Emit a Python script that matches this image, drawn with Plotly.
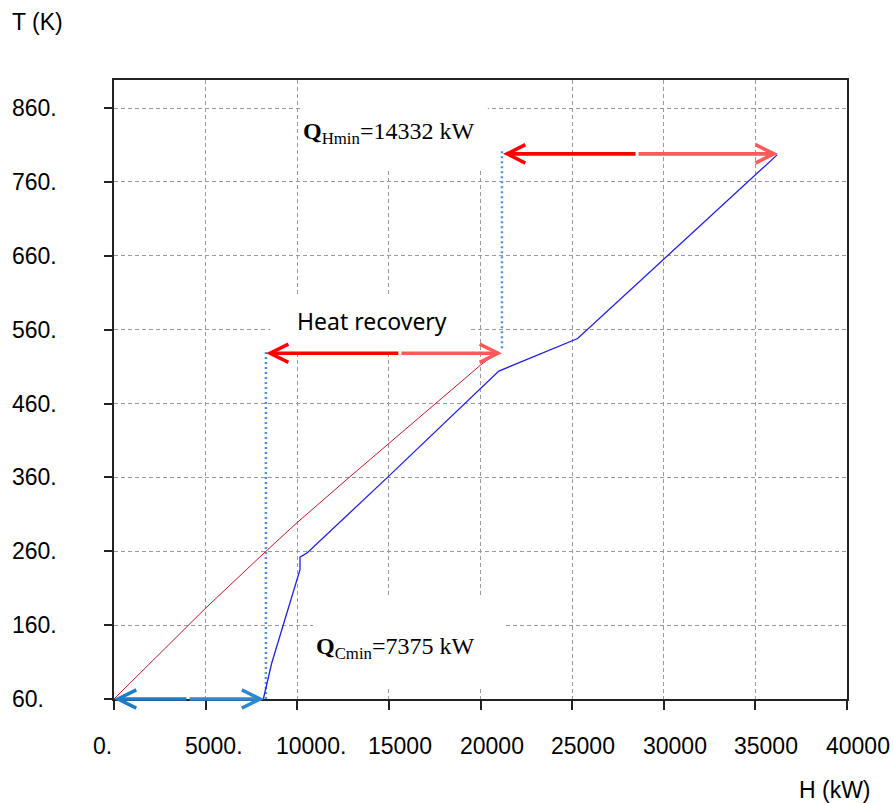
import plotly.graph_objects as go

# ---------------- data ----------------
hot_H = [0, 5000, 8290, 10000, 12880, 17700, 20000, 20800]
hot_T = [60, 183, 260, 299, 361, 463, 512, 527]

cold_H = [8150, 8600, 10150, 10150, 10550, 14880, 21000, 25300, 36200]
cold_T = [60, 108, 235, 252, 258, 359, 504, 548, 797]

x_ticks = [0, 5000, 10000, 15000, 20000, 25000, 30000, 35000, 40000]
x_tick_labels = ["0.", "5000.", "10000.", "15000", "20000", "25000", "30000", "35000", "40000"]
y_ticks = [60, 160, 260, 360, 460, 560, 660, 760, 860]
y_tick_labels = ["60.", "160.", "260.", "360.", "460.", "560.", "660.", "760.", "860."]

# arrows: [left tip, middle, right tip], level T
qc_arrow_H = [0, 4040, 8190]
qc_arrow_T = 60
hr_arrow_H = [8300, 15600, 21170]
hr_arrow_T = 528
qh_arrow_H = [21230, 28540, 36230]
qh_arrow_T = 798

# pinch (dotted) lines
pinch_low_H = [8290, 8290]
pinch_low_T = [60, 530]
pinch_high_H = [21170, 21170]
pinch_high_T = [535, 805]

# label boxes (white background behind labels): [H0, H1, T0, T1]
qh_box = [10150, 20400, 777, 898]
hr_box = [8510, 19430, 532, 607]
qc_box = [10860, 21390, 75, 197]

qh_label = "<b>Q</b><sub>Hmin</sub>=14332 kW"
qh_pos = [10200, 826]
qc_label = "<b>Q</b><sub>Cmin</sub>=7375 kW"
qc_pos = [10930, 129]
hr_label = "Heat recovery"
hr_pos = [9877, 572]

X_RANGE = [0, 40000]
Y_RANGE = [60, 898]

# ---------------- figure ----------------
fig = go.Figure()

fig.add_trace(go.Scatter(x=pinch_low_H, y=pinch_low_T, mode="lines",
                         line=dict(color="#4f93d6", width=2.5, dash="2px,3px"),
                         hoverinfo="skip", showlegend=False))
fig.add_trace(go.Scatter(x=pinch_high_H, y=pinch_high_T, mode="lines",
                         line=dict(color="#4f93d6", width=2.5, dash="2px,3px"),
                         hoverinfo="skip", showlegend=False))
fig.add_trace(go.Scatter(x=hot_H, y=hot_T, mode="lines",
                         line=dict(color="#c0182a", width=1),
                         showlegend=False))
fig.add_trace(go.Scatter(x=cold_H, y=cold_T, mode="lines",
                         line=dict(color="#1f1fe6", width=1.3),
                         showlegend=False))

shapes = []
for b in (qh_box, hr_box, qc_box):
    shapes.append(dict(type="rect", xref="x", yref="y", x0=b[0], x1=b[1], y0=b[2], y1=b[3],
                       fillcolor="white", line=dict(width=0), layer="between"))

annotations = []


def double_arrow(Hs, T, dark, light):
    left, mid, right = Hs
    annotations.append(dict(x=left, y=T, ax=mid, ay=T, xref="x", yref="y",
                            axref="x", ayref="y", text="", showarrow=True,
                            arrowhead=5, arrowsize=1.0, arrowwidth=3.6,
                            arrowcolor=dark, standoff=0, startstandoff=0))
    annotations.append(dict(x=right, y=T, ax=mid, ay=T, xref="x", yref="y",
                            axref="x", ayref="y", text="", showarrow=True,
                            arrowhead=5, arrowsize=1.0, arrowwidth=3.6,
                            arrowcolor=light, standoff=0, startstandoff=0))


double_arrow(qc_arrow_H, qc_arrow_T, "#1f7bc8", "#2f88d4")
double_arrow(hr_arrow_H, hr_arrow_T, "#ff0000", "#ff5a5a")
double_arrow(qh_arrow_H, qh_arrow_T, "#ff0000", "#ff5a5a")

serif = "Liberation Serif, Times New Roman, serif"
sans = "Liberation Sans, Arial, sans-serif"

annotations.append(dict(x=qh_pos[0], y=qh_pos[1], xref="x", yref="y", text=qh_label,
                        showarrow=False, xanchor="left", yanchor="middle",
                        font=dict(family=serif, size=24, color="black")))
annotations.append(dict(x=qc_pos[0], y=qc_pos[1], xref="x", yref="y", text=qc_label,
                        showarrow=False, xanchor="left", yanchor="middle",
                        font=dict(family=serif, size=24, color="black")))
annotations.append(dict(x=hr_pos[0], y=hr_pos[1], xref="x", yref="y", text=hr_label,
                        showarrow=False, xanchor="left", yanchor="middle",
                        font=dict(family="Noto Sans, Open Sans, sans-serif", size=23, color="black")))

# tick labels (left aligned like the original)
for v, t in zip(x_ticks, x_tick_labels):
    annotations.append(dict(x=v, y=0, xref="x", yref="paper", text=t, showarrow=False,
                            xanchor="left", yanchor="middle", xshift=-23, yshift=-47,
                            font=dict(family=sans, size=23, color="black")))
for v, t in zip(y_ticks, y_tick_labels):
    annotations.append(dict(x=0, y=v, xref="x", yref="y", text=t, showarrow=False,
                            xanchor="left", yanchor="middle", xshift=-104,
                            font=dict(family=sans, size=23, color="black")))

# axis titles
annotations.append(dict(x=0, y=1, xref="x", yref="paper", text="T (K)", showarrow=False,
                        xanchor="left", yanchor="middle", xshift=-104, yshift=58,
                        font=dict(family=sans, size=23, color="black")))
annotations.append(dict(x=1, y=0, xref="paper", yref="paper", text="H (kW)", showarrow=False,
                        xanchor="right", yanchor="middle", xshift=26, yshift=-91,
                        font=dict(family=sans, size=23, color="black")))

grid_style = dict(showgrid=True, gridcolor="#9a9a9a", gridwidth=1, griddash="4px,3px",
                  showticklabels=False, ticks="outside", tickcolor="#222", tickwidth=1.5,
                  showline=True, linecolor="#222", linewidth=1.5, mirror=True,
                  zeroline=False, fixedrange=True)

fig.update_layout(
    width=893, height=803,
    margin=dict(l=114, r=46, t=80, b=104),
    paper_bgcolor="white", plot_bgcolor="white",
    xaxis=dict(range=X_RANGE, tickvals=x_ticks, ticklen=9, **grid_style),
    yaxis=dict(range=Y_RANGE, tickvals=y_ticks, ticklen=8, **grid_style),
    shapes=shapes,
    annotations=annotations,
    showlegend=False,
)

fig.write_html("out.html", config={"displayModeBar": False},
               post_script="document.body.style.margin='0';document.body.style.overflow='hidden';")
